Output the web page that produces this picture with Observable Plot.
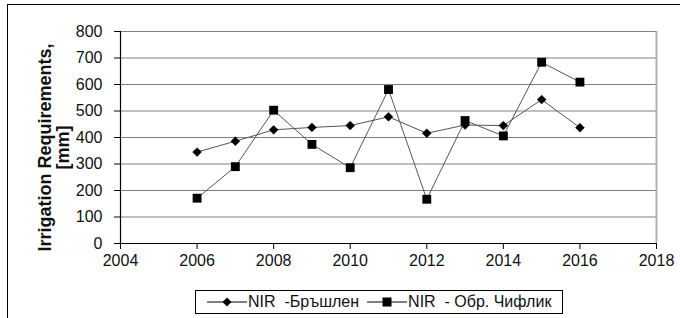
<!DOCTYPE html>
<html>
<head>
<meta charset="utf-8">
<script src="https://cdn.jsdelivr.net/npm/d3@7"></script>
<script src="https://cdn.jsdelivr.net/npm/@observablehq/plot@0.6"></script>
<style>
  body { margin: 0; background: #fff; font-family: "Liberation Sans", Arial, sans-serif; }
  #wrap { position: relative; width: 680px; height: 318px; overflow: hidden; background: #fff; }
  #frame { position: absolute; left: 7px; top: 4px; width: 700px; height: 330px; border-left: 1.5px solid #000; border-top: 1.5px solid #000; box-sizing: border-box; pointer-events: none; }
  #chart { position: absolute; left: 0; top: 0; }
  #legend { position: absolute; left: 195px; top: 290px; width: 368px; height: 24px; border: 1px solid #000; box-sizing: border-box; display: flex; align-items: center; font-size: 16px; color: #111; white-space: pre; background: #fff; }
  #legend .item { display: flex; align-items: center; }
  #legend svg { display: block; }
</style>
</head>
<body>
<div id="wrap">
  <div id="chart"></div>
  <div id="legend"></div>
  <div id="frame"></div>
</div>
<script>
const years = [2006, 2007, 2008, 2009, 2010, 2011, 2012, 2013, 2014, 2015, 2016];
const brushlen = [345, 386, 429, 438, 445, 478, 416, 447, 445, 543, 437];
const chiflik = [171, 290, 503, 374, 286, 581, 167, 464, 406, 684, 609];
const seriesNames = ["NIR  -Бръшлен", "NIR  - Обр. Чифлик"];
const xTicks = [2004, 2006, 2008, 2010, 2012, 2014, 2016, 2018];
const yTicks = [0, 100, 200, 300, 400, 500, 600, 700, 800];
const yLabel = "Irrigation Requirements,\n[mm]";

const dataA = years.map((y, i) => ({year: y, value: brushlen[i]}));
const dataB = years.map((y, i) => ({year: y, value: chiflik[i]}));

const chart = Plot.plot({
  width: 680,
  height: 285,
  marginLeft: 120,
  marginRight: 24,
  marginTop: 31,
  marginBottom: 42,
  style: {fontFamily: "'Liberation Sans', Arial, sans-serif", background: "transparent", color: "#111"},
  x: {domain: [2004, 2018]},
  y: {domain: [0, 800]},
  marks: [
    Plot.ruleY(yTicks.filter(d => d > 0), {stroke: "#808080", strokeWidth: 1.2}),
    Plot.ruleX([2018], {stroke: "#b0b0b0", strokeWidth: 2}),
    Plot.ruleY([0], {stroke: "#000", strokeWidth: 1.2}),
    Plot.ruleX([2004], {stroke: "#000", strokeWidth: 1.2}),
    Plot.axisX({ticks: xTicks, tickFormat: d => String(d), tickSize: 6, tickPadding: 5, fontSize: 16, label: null, stroke: "#000"}),
    Plot.axisY({ticks: yTicks, tickFormat: d => String(d), tickSize: 6, tickPadding: 12, fontSize: 16, label: null, stroke: "#000"}),
    Plot.text([yLabel], {frameAnchor: "left", text: d => d, rotate: -90, dx: -66, dy: 10, fontSize: 18, fontWeight: "bold", lineHeight: 1, textAnchor: "middle", lineAnchor: "middle", fill: "#111"}),
    Plot.line(dataA, {x: "year", y: "value", stroke: "#555", strokeWidth: 1}),
    Plot.line(dataB, {x: "year", y: "value", stroke: "#555", strokeWidth: 1}),
    Plot.dot(dataA, {x: "year", y: "value", symbol: "diamond2", r: 4, fill: "#000", stroke: "#000", strokeWidth: 0.5}),
    Plot.dot(dataB, {x: "year", y: "value", symbol: "square", r: 5, fill: "#000", stroke: "none"})
  ]
});
document.getElementById("chart").appendChild(chart);

// Legend
const legend = document.getElementById("legend");
function swatch(kind) {
  const ns = "http://www.w3.org/2000/svg";
  const svg = document.createElementNS(ns, "svg");
  svg.setAttribute("width", 40);
  svg.setAttribute("height", 12);
  const line = document.createElementNS(ns, "line");
  line.setAttribute("x1", 0); line.setAttribute("x2", 40);
  line.setAttribute("y1", 6); line.setAttribute("y2", 6);
  line.setAttribute("stroke", "#000"); line.setAttribute("stroke-width", 1);
  svg.appendChild(line);
  if (kind === "diamond") {
    const p = document.createElementNS(ns, "path");
    p.setAttribute("d", "M20,1.5L24.5,6L20,10.5L15.5,6Z");
    p.setAttribute("fill", "#000");
    svg.appendChild(p);
  } else {
    const r = document.createElementNS(ns, "rect");
    r.setAttribute("x", 15.5); r.setAttribute("y", 1.5);
    r.setAttribute("width", 9); r.setAttribute("height", 9);
    r.setAttribute("fill", "#000");
    svg.appendChild(r);
  }
  return svg;
}
const kinds = ["diamond", "square"];
const margins = [11, 0];
seriesNames.forEach((name, i) => {
  const item = document.createElement("div");
  item.className = "item";
  item.style.marginLeft = (i === 0 ? 11 : 8) + "px";
  item.appendChild(swatch(kinds[i]));
  const t = document.createElement("span");
  t.textContent = name;
  t.style.marginLeft = "1px";
  item.appendChild(t);
  legend.appendChild(item);
});
</script>
</body>
</html>
